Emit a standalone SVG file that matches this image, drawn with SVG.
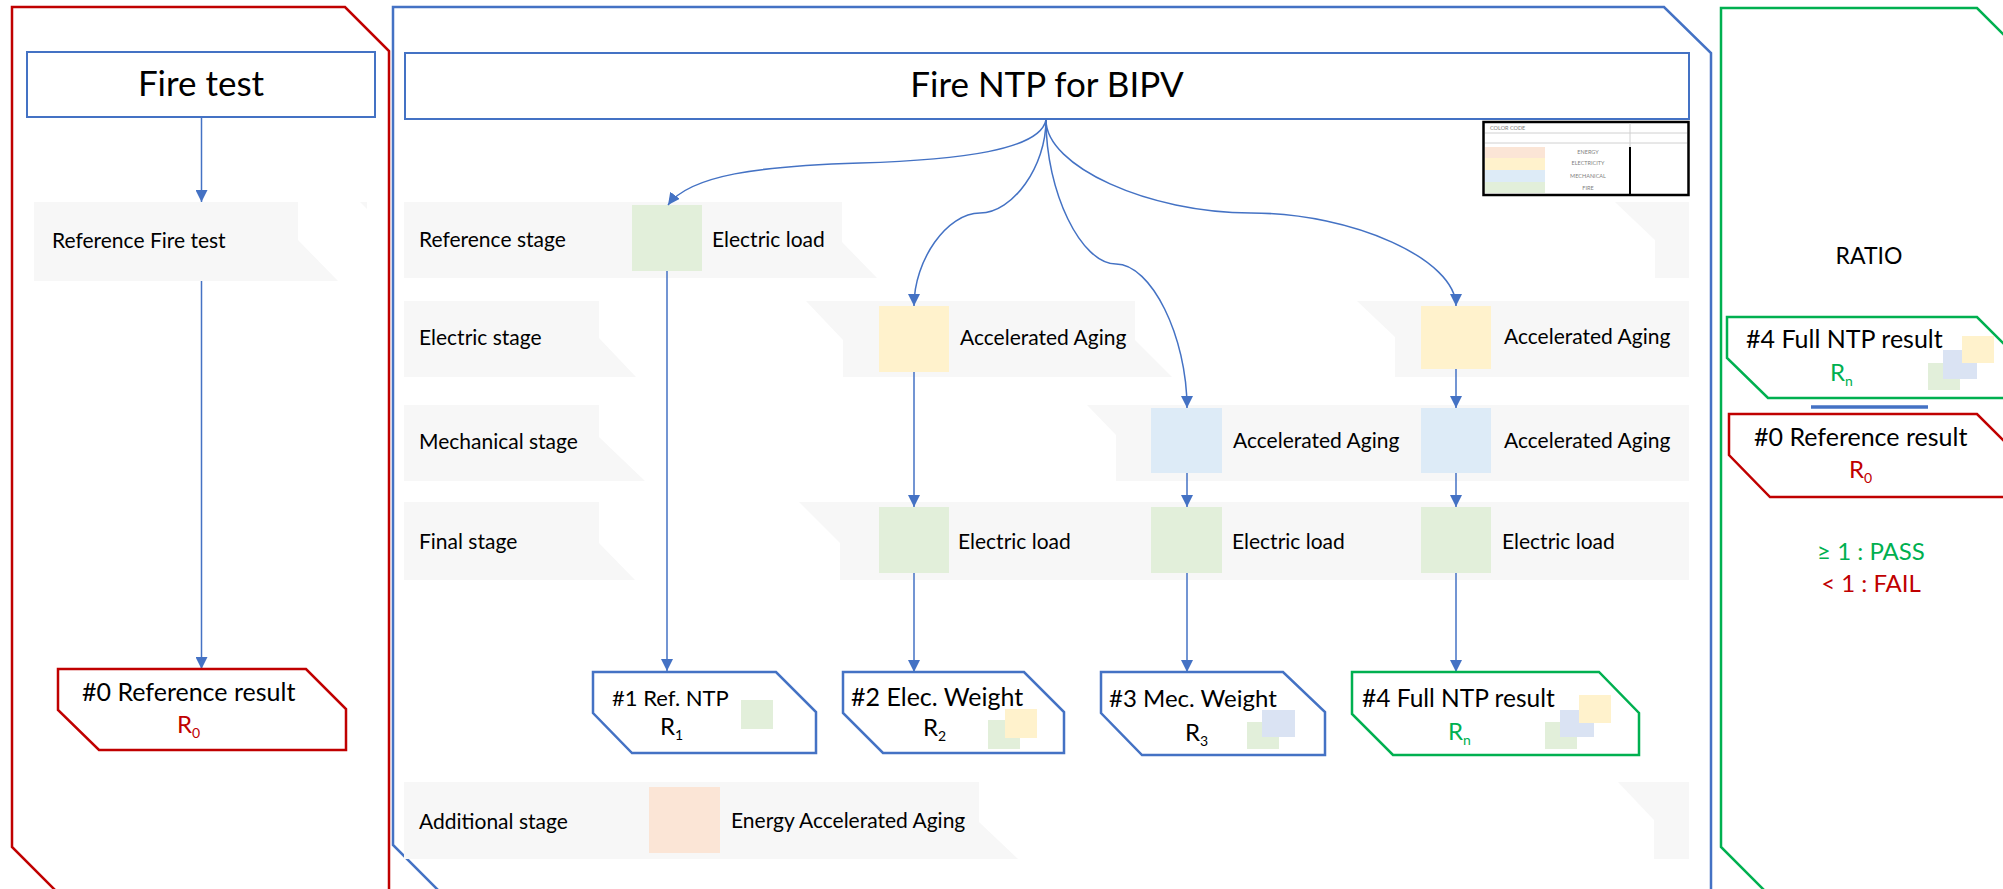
<svg xmlns="http://www.w3.org/2000/svg" width="2003" height="889" viewBox="0 0 2003 889">
  <defs>
    <marker id="arrow" viewBox="0 0 12 12" refX="12" refY="6" markerWidth="12" markerHeight="12" markerUnits="userSpaceOnUse" orient="auto">
      <path d="M0,0 L12,6 L0,12 z" fill="#4472C4"/>
    </marker>
    <style>
      text { font-family: Lato, "Open Sans", sans-serif; fill: #000; }
      .title { font-size: 35px; text-anchor: middle; }
      .lbl { font-size: 21px; }
      .res { font-size: 24px; }
      .sub { font-size: 14px; }
      .band { fill: #F7F7F7; }
      .panel { fill: none; stroke-width: 2.5; }
      .tbox { fill: #fff; stroke: #4472C4; stroke-width: 2; }
      .rbox { fill: #fff; stroke-width: 2.5; }
      .blue { stroke: #4472C4; }
      .red { stroke: #C00000; }
      .green { stroke: #00B050; }
      .g { fill: #E2EFDA; }
      .y { fill: #FFF2CC; }
      .b { fill: #DDEBF7; }
      .b2 { fill: #DAE3F3; }
      .p { fill: #FBE5D6; }
      .conn { fill: none; stroke: #4472C4; stroke-width: 1.5; marker-end: url(#arrow); }
      .legend-t { font-size: 5.5px; fill: #7F7F7F; text-anchor: middle; }
      .tr { fill: #C00000; }
      .tg { fill: #00B050; }
      .verdict { font-size: 24px; text-anchor: middle; }
    </style>
  </defs>

  <rect width="2003" height="889" fill="#fff"/>

  <!-- outer panels -->
  <g id="panel-fire-test">
    <path class="panel red" d="M12,847 V7 H345 L389,51 V905 H70 Z"/>
  </g>
  <g id="panel-ntp">
    <path class="panel blue" d="M393,845 V7 H1664 L1711,53 V905 H453 Z"/>
  </g>
  <g id="panel-ratio">
    <path class="panel green" d="M1721,847 V8 H1977 L2030,61 V905 H1779 Z"/>
  </g>

  <!-- stage bands -->
  <g id="bands">
    <polygon class="band" points="34,202 298,202 298,240 338,281 34,281"/>
    <polygon class="band" points="360,202 367,202 367,209"/>

    <polygon class="band" points="404,202 842,202 842,242 877,278 404,278"/>
    <polygon class="band" points="1615,202 1689,202 1689,278 1655,278 1655,240"/>

    <polygon class="band" points="404,301 599,301 599,338 636,377 404,377"/>
    <polygon class="band" points="806,301 1135,301 1135,340 1172,377 843,377 843,340"/>
    <polygon class="band" points="1357,301 1689,301 1689,377 1395,377 1395,337"/>

    <polygon class="band" points="404,405 599,405 599,437 645,481 404,481"/>
    <polygon class="band" points="1087,405 1689,405 1689,481 1116,481 1116,435"/>

    <polygon class="band" points="404,502 599,502 599,543 635,580 404,580"/>
    <polygon class="band" points="799,502 1689,502 1689,580 840,580 840,543"/>

    <polygon class="band" points="404,782 979,782 979,822 1018,859 404,859"/>
    <polygon class="band" points="1618,782 1689,782 1689,859 1654,859 1654,820"/>
  </g>

  <!-- stage labels -->
  <g id="stage-labels">
    <text class="lbl" x="52" y="248">Reference Fire test</text>
    <text class="lbl" x="419" y="247">Reference stage</text>
    <text class="lbl" x="419" y="345">Electric stage</text>
    <text class="lbl" x="419" y="449">Mechanical stage</text>
    <text class="lbl" x="419" y="549">Final stage</text>
    <text class="lbl" x="419" y="829">Additional stage</text>
  </g>

  <!-- title boxes -->
  <g id="fire-test">
    <rect class="tbox" x="27" y="52" width="348" height="65"/>
    <text class="title" x="201" y="96">Fire test</text>
  </g>
  <g id="fire-ntp">
    <rect class="tbox" x="405" y="53" width="1284" height="66"/>
    <text class="title" x="1047" y="97">Fire NTP for BIPV</text>
  </g>

  <!-- colour code table -->
  <g id="color-code">
    <rect x="1483.5" y="122" width="205" height="73" fill="#fff" stroke="#000" stroke-width="2.5"/>
    <line x1="1485" y1="133" x2="1687" y2="133" stroke="#D0D0D0" stroke-width="1"/>
    <line x1="1485" y1="143" x2="1687" y2="143" stroke="#D0D0D0" stroke-width="1"/>
    <line x1="1630" y1="123" x2="1630" y2="147" stroke="#D0D0D0" stroke-width="1"/>
    <line x1="1630" y1="147" x2="1630" y2="194" stroke="#000" stroke-width="2"/>
    <rect class="p" x="1485" y="147" width="60" height="11"/>
    <rect class="y" x="1485" y="158" width="60" height="12"/>
    <rect class="b" x="1485" y="170" width="60" height="12"/>
    <rect class="g" x="1485" y="182" width="60" height="11"/>
    <text class="legend-t" x="1490" y="130" style="text-anchor:start">COLOR CODE</text>
    <text class="legend-t" x="1588" y="154">ENERGY</text>
    <text class="legend-t" x="1588" y="165">ELECTRICITY</text>
    <text class="legend-t" x="1588" y="178">MECHANICAL</text>
    <text class="legend-t" x="1588" y="190">FIRE</text>
  </g>

  <!-- process nodes -->
  <g id="ref-electric-load">
    <rect class="g" x="632" y="205" width="70" height="66"/>
    <text class="lbl" x="712" y="247">Electric load</text>
  </g>
  <g id="elec-aging-2">
    <rect class="y" x="879" y="306" width="70" height="66"/>
    <text class="lbl" x="960" y="345">Accelerated Aging</text>
  </g>
  <g id="elec-aging-4">
    <rect class="y" x="1421" y="306" width="70" height="63"/>
    <text class="lbl" x="1504" y="344">Accelerated Aging</text>
  </g>
  <g id="mech-aging-3">
    <rect class="b" x="1151" y="408" width="71" height="65"/>
    <text class="lbl" x="1233" y="448">Accelerated Aging</text>
  </g>
  <g id="mech-aging-4">
    <rect class="b" x="1421" y="408" width="70" height="65"/>
    <text class="lbl" x="1504" y="448">Accelerated Aging</text>
  </g>
  <g id="final-load-2">
    <rect class="g" x="879" y="507" width="70" height="66"/>
    <text class="lbl" x="958" y="549">Electric load</text>
  </g>
  <g id="final-load-3">
    <rect class="g" x="1151" y="507" width="71" height="66"/>
    <text class="lbl" x="1232" y="549">Electric load</text>
  </g>
  <g id="final-load-4">
    <rect class="g" x="1421" y="507" width="70" height="66"/>
    <text class="lbl" x="1502" y="549">Electric load</text>
  </g>
  <g id="energy-aging">
    <rect class="p" x="649" y="787" width="71" height="66"/>
    <text class="lbl" x="731" y="828">Energy Accelerated Aging</text>
  </g>

  <!-- connectors -->
  <g id="connectors">
    <path class="conn" d="M201.5,117 V202"/>
    <path class="conn" d="M201.5,281 V669"/>
    <path class="conn" d="M1046,120 C1040,150 960,160 860,163 C760,166 690,175 668,205"/>
    <path class="conn" d="M1046,120 C1046,166 1013,213 980,213 C947,213 914,260 914,306"/>
    <path class="conn" d="M1046,120 C1046,192 1081,264 1116,264 C1151,264 1187,336 1187,408"/>
    <path class="conn" d="M1046,120 C1046,166.5 1148.5,213 1251,213 C1353.5,213 1456,259.5 1456,306"/>
    <path class="conn" d="M667,271 V671"/>
    <path class="conn" d="M914,372 V507"/>
    <path class="conn" d="M914,573 V672"/>
    <path class="conn" d="M1187,473 V507"/>
    <path class="conn" d="M1187,573 V672"/>
    <path class="conn" d="M1456,369 V408"/>
    <path class="conn" d="M1456,473 V507"/>
    <path class="conn" d="M1456,573 V672"/>
  </g>

  <!-- result boxes -->
  <g id="result-0">
    <polygon class="rbox red" points="58,669 306,669 346,709 346,750 99,750 58,710"/>
    <text class="res" x="82" y="701" style="font-size:25px">#0 Reference result</text>
    <text class="res tr" x="177" y="733">R<tspan class="sub tr" dy="5">0</tspan></text>
  </g>
  <g id="result-1">
    <polygon class="rbox blue" points="593,672 776,672 816,712 816,753 632,753 593,713"/>
    <text class="res" x="612" y="706" style="font-size:22px">#1 Ref. NTP</text>
    <text class="res" x="660" y="735">R<tspan class="sub" dy="5">1</tspan></text>
    <rect class="g" x="741" y="700" width="32" height="29"/>
  </g>
  <g id="result-2">
    <polygon class="rbox blue" points="843,672 1024,672 1064,712 1064,753 883,753 843,713"/>
    <text class="res" x="851" y="706" style="font-size:25px">#2 Elec. Weight</text>
    <text class="res" x="923" y="736">R<tspan class="sub" dy="5">2</tspan></text>
    <rect class="g" x="988" y="720" width="32" height="29"/>
    <rect class="y" x="1005" y="709" width="32" height="29"/>
  </g>
  <g id="result-3">
    <polygon class="rbox blue" points="1101,672 1283,672 1325,712 1325,755 1142,755 1101,713"/>
    <text class="res" x="1109" y="707">#3 Mec. Weight</text>
    <text class="res" x="1185" y="741">R<tspan class="sub" dy="5">3</tspan></text>
    <rect class="g" x="1247" y="722" width="32" height="27"/>
    <rect class="b2" x="1262" y="710" width="33" height="27"/>
  </g>
  <g id="result-4">
    <polygon class="rbox green" points="1352,672 1599,672 1639,713 1639,755 1393,755 1352,714"/>
    <text class="res" x="1362" y="707" style="font-size:24.5px">#4 Full NTP result</text>
    <text class="res tg" x="1448" y="740">R<tspan class="sub tg" dy="5">n</tspan></text>
    <rect class="g" x="1545" y="722" width="32" height="27"/>
    <rect class="b2" x="1560" y="710" width="34" height="27"/>
    <rect class="y" x="1579" y="695" width="32" height="28"/>
  </g>

  <!-- ratio panel -->
  <g id="ratio">
    <text class="res" x="1869" y="264" text-anchor="middle" style="font-size:23px">RATIO</text>
  </g>
  <g id="ratio-numerator">
    <polygon class="rbox green" points="1727,317 1977,317 2017,357 2017,398 1768,398 1727,358"/>
    <text class="res" x="1746" y="348" style="font-size:25px">#4 Full NTP result</text>
    <text class="res tg" x="1830" y="381">R<tspan class="sub tg" dy="5">n</tspan></text>
    <rect class="g" x="1928" y="363" width="32" height="27"/>
    <rect class="b2" x="1943" y="350" width="34" height="29"/>
    <rect class="y" x="1962" y="336" width="32" height="27"/>
  </g>
  <line id="ratio-bar" x1="1811" y1="407" x2="1928" y2="407" stroke="#4472C4" stroke-width="3.5"/>
  <g id="ratio-denominator">
    <polygon class="rbox red" points="1729,414 1977,414 2017,454 2017,497 1770,497 1729,455"/>
    <text class="res" x="1754" y="446" style="font-size:25px">#0 Reference result</text>
    <text class="res tr" x="1849" y="478">R<tspan class="sub tr" dy="5">0</tspan></text>
  </g>
  <g id="verdict">
    <text class="verdict tg" x="1871" y="560">≥ 1 : PASS</text>
    <text class="verdict tr" x="1871" y="592">&lt; 1 : FAIL</text>
  </g>
</svg>
